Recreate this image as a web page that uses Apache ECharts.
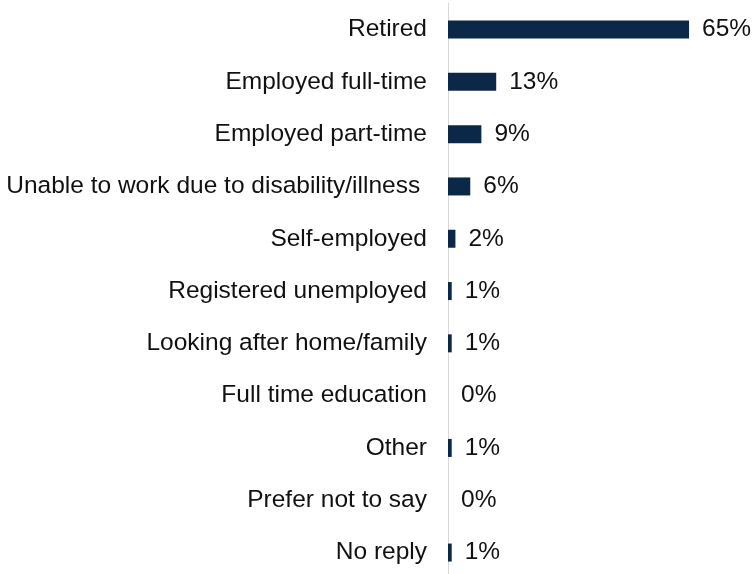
<!DOCTYPE html>
<html>
<head>
<meta charset="utf-8">
<script src="https://cdn.jsdelivr.net/npm/echarts@6/dist/echarts.min.js"></script>
<style>
  html, body { margin: 0; padding: 0; background: #ffffff; overflow: hidden; }
  /* the plot runs slightly past the bottom edge of the window */
  #chart { width: 753px; height: 584px; }
</style>
</head>
<body>
<div id="chart"></div>
<script>
// Employment status of respondents (share of replies, %)
const categories = [
  'Retired',
  'Employed full-time',
  'Employed part-time',
  'Unable to work due to disability/illness ',
  'Self-employed',
  'Registered unemployed',
  'Looking after home/family',
  'Full time education',
  'Other',
  'Prefer not to say',
  'No reply'
];
const shares = [65, 13, 9, 6, 2, 1, 1, 0, 1, 0, 1];

const chart = echarts.init(document.getElementById('chart'), null, { renderer: 'canvas' });

const FONT = '"Liberation Sans", Arial, sans-serif';

chart.setOption({
  animation: false,
  backgroundColor: '#ffffff',
  textStyle: { fontFamily: FONT },
  grid: { left: 448, top: 3.4, width: 259.6, height: 575.3, containLabel: false },
  xAxis: {
    type: 'value',
    min: 0,
    max: 70,
    show: false
  },
  yAxis: {
    type: 'category',
    data: categories,
    inverse: true,
    axisLine: { show: true, lineStyle: { color: '#d9d9d9', width: 1 } },
    axisTick: { show: false },
    axisLabel: {
      margin: 21,
      fontSize: 24.5,
      color: '#111111',
      fontFamily: FONT,
      padding: [4, 0, 0, 0]
    },
    splitLine: { show: false }
  },
  series: [{
    type: 'bar',
    data: shares,
    barWidth: 18,
    itemStyle: { color: '#0c2848' },
    label: {
      show: true,
      position: 'right',
      distance: 13,
      fontSize: 24.5,
      color: '#111111',
      fontFamily: FONT,
      padding: [4, 0, 0, 0],
      formatter: p => p.value + '%'
    }
  }]
});
</script>
</body>
</html>
